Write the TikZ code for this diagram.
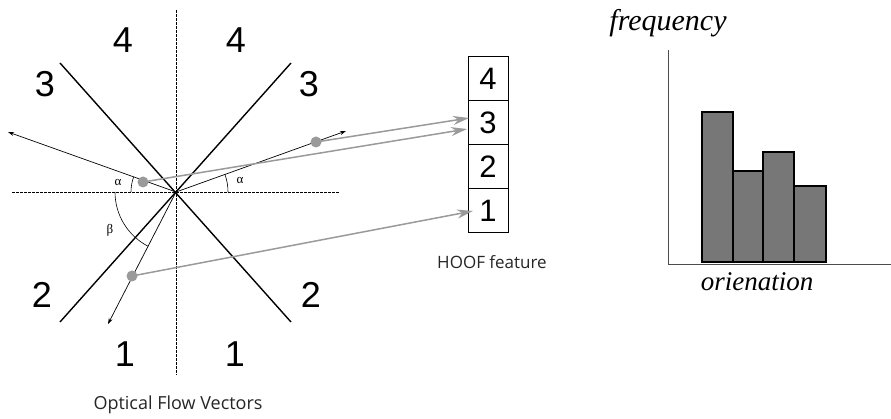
\documentclass[tikz,border=0pt]{standalone}
\usepackage{fontspec}
\setmainfont{Liberation Sans}
\newfontfamily\serifface{Liberation Serif}
\newfontfamily\capface{Open Sans}
\usetikzlibrary{arrows.meta}
\definecolor{gline}{HTML}{9A9A9A}
\definecolor{barfill}{HTML}{777777}
\begin{document}
\begin{tikzpicture}[x=1pt,y=-1pt,
  diag/.style={line width=1.4pt,black},
  axdash/.style={line width=0.9pt,dash pattern=on 3pt off 1pt,black},
  vec/.style={line width=0.7pt,black,-{Stealth[length=6pt,width=4pt]}},
  anglearc/.style={line width=0.6pt,black},
  dot/.style={circle,fill=gline,inner sep=0pt,minimum size=11pt},
  garrow/.style={line width=1.5pt,gline,-{Stealth[length=16pt,width=9pt]}},
  sector/.style={font=\fontsize{36}{36}\selectfont},
  cell/.style={draw,line width=1pt,minimum width=40pt,minimum height=44pt,inner sep=0pt,font=\fontsize{31}{31}\selectfont},
  greek/.style={font=\serifface\fontsize{13}{13}\selectfont},
  caption/.style={font=\capface\fontsize{17}{17}\selectfont,text=black!85},
  bar/.style={draw=black,line width=1.4pt,fill=barfill},
  histaxis/.style={line width=0.9pt,black!70},
  histlabel/.style={font=\serifface\itshape\fontsize{27}{27}\selectfont}
]
\useasboundingbox (0,0) rectangle (891,419);

% center and guide lines
\coordinate (O) at (176,192);
\coordinate (vtop) at (176,10);
\coordinate (vbot) at (176,375);
\coordinate (hl) at (12,192);
\coordinate (hr) at (340,192);
\draw[axdash] (vtop) -- (vbot);
\draw[axdash] (hl) -- (hr);

\coordinate (d1a) at (60,63);
\coordinate (d1b) at (291,322);
\coordinate (d2a) at (291,63);
\coordinate (d2b) at (60,322);
\draw[diag] (d1a) -- (d1b);
\draw[diag] (d2a) -- (d2b);

% sector numbers
\node[sector] (s4l) at (123,40) {4};
\node[sector] (s4r) at (236,40) {4};
\node[sector] (s3l) at (45,84) {3};
\node[sector] (s3r) at (309,84) {3};
\node[sector] (s2l) at (42,295) {2};
\node[sector] (s2r) at (311,295) {2};
\node[sector] (s1l) at (125,354) {1};
\node[sector] (s1r) at (235,354) {1};

% flow vectors
\coordinate (vL) at (8,132);
\coordinate (vR) at (346,131);
\coordinate (vD) at (108,324);
\draw[vec] (O) -- (vL);
\draw[vec] (O) -- (vR);
\draw[vec] (O) -- (vD);

% angle arcs
\draw[anglearc] (O) ++(180:45) arc[start angle=180,end angle=200,radius=45];
\draw[anglearc] (O) ++(0:52) arc[start angle=0,end angle=-20,radius=52];
\draw[anglearc] (O) ++(180:61) arc[start angle=180,end angle=117,radius=61];
\node[greek] (a1) at (118,182) {α};
\node[greek] (a2) at (240,181) {α};
\node[greek] (b1) at (110,230) {β};

% HOOF cells
\node[cell] (h4) at (488,78.5) {4};
\node[cell] (h3) at (488,123) {3};
\node[cell] (h2) at (488,167) {2};
\node[cell] (h1) at (488,211) {1};
\node[caption] (hoof) at (492,262) {HOOF feature};

% dots and grey arrows
\node[dot] (pL) at (143,182) {};
\node[dot] (pR) at (316,142) {};
\node[dot] (pD) at (132,276) {};
\coordinate (t3a) at (469,118);
\coordinate (t3b) at (467,129);
\coordinate (t1) at (473,211);
\draw[garrow] (pR.center) -- (t3a);
\draw[garrow] (pL.center) -- (t3b);
\draw[garrow] (pD.center) -- (t1);

\node[caption,font=\capface\fontsize{18}{18}\selectfont] (ofv) at (178,405) {Optical Flow Vectors};

% histogram
\coordinate (ya) at (668,50);
\coordinate (org) at (668,264);
\coordinate (xa) at (891,264);
\draw[histaxis] (ya) -- (org) -- (xa);
\draw[bar] (702,262) rectangle (733,112);
\draw[bar] (733,262) rectangle (763,171);
\draw[bar] (763,262) rectangle (794,152);
\draw[bar] (794,262) rectangle (826,186);
\node[histlabel,font=\serifface\itshape\fontsize{30}{30}\selectfont] (freq) at (668,23) {frequency};
\node[histlabel] (orient) at (757,282) {orienation};
\end{tikzpicture}
\end{document}
